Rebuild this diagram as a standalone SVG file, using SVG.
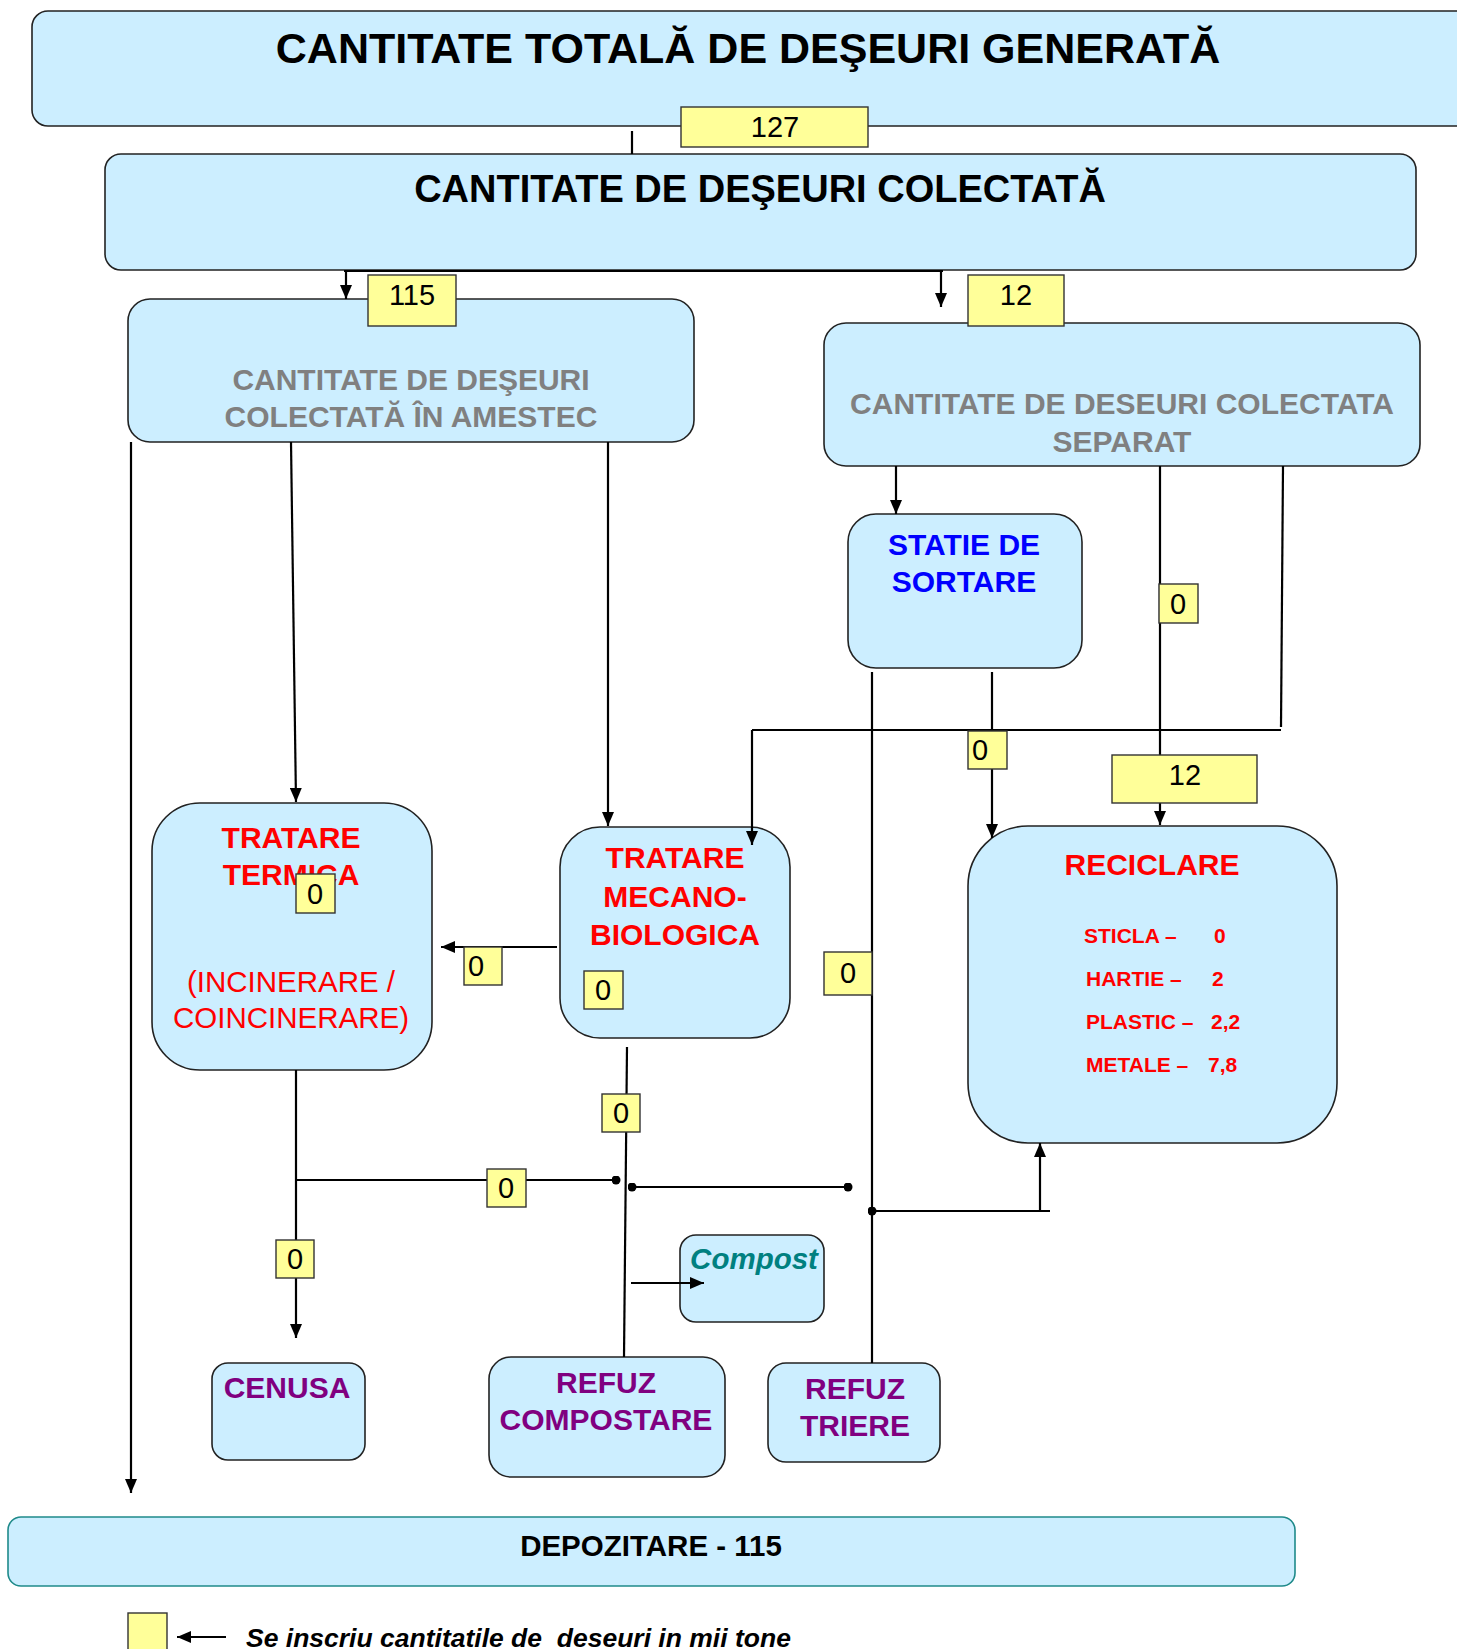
<svg xmlns="http://www.w3.org/2000/svg" width="1457" height="1649" viewBox="0 0 1457 1649">
  <defs>
    <marker id="arrow" viewBox="0 0 14 12" refX="14" refY="6" markerWidth="14" markerHeight="12" markerUnits="userSpaceOnUse" orient="auto">
      <path d="M0,0 L14,6 L0,12 Z" fill="#000"/>
    </marker>
    <marker id="dot" viewBox="0 0 10 10" refX="5" refY="5" markerWidth="9" markerHeight="9" markerUnits="userSpaceOnUse">
      <circle cx="5" cy="5" r="5" fill="#000"/>
    </marker>
  </defs>
  <style>
    .box { fill: #cceeff; stroke: #222; stroke-width: 1.6; }
    .dep { fill: #cceeff; stroke: #1f8a8a; stroke-width: 1.6; }
    .val { fill: #ffff99; stroke: #333; stroke-width: 1.4; }
    .ln { fill: none; stroke: #000; stroke-width: 2.2; }
    .arr { fill: none; stroke: #000; stroke-width: 2.2; marker-end: url(#arrow); }
    text { font-family: "Liberation Sans", Arial, sans-serif; text-anchor: middle; }
    .h1 { font-size: 43px; font-weight: bold; fill: #000; }
    .h2 { font-size: 38px; font-weight: bold; fill: #000; }
    .gray { font-size: 30px; font-weight: bold; fill: #808080; }
    .blue { font-size: 30px; font-weight: bold; fill: #0000ff; }
    .red { font-size: 30px; font-weight: bold; fill: #ff0000; }
    .redn { font-size: 29.5px; fill: #ff0000; }
    .item { font-size: 21px; font-weight: bold; fill: #ff0000; text-anchor: start; }
    .purple { font-size: 30px; font-weight: bold; fill: #800080; }
    .teal { font-size: 29.5px; font-weight: bold; font-style: italic; fill: #008080; }
    .num { font-size: 29px; fill: #000; }
    .dep-t { font-size: 29.5px; font-weight: bold; fill: #000; }
    .note { font-size: 26.5px; font-weight: bold; font-style: italic; fill: #000; text-anchor: start; }
  </style>

  <rect width="1457" height="1649" fill="#fff"/>

  <!-- nodes -->
  <g id="total">
    <rect class="box" x="32" y="11" width="1440" height="115" rx="16"/>
    <text class="h1" x="748" y="63">CANTITATE TOTALĂ DE DEŞEURI GENERATĂ</text>
  </g>
  <g id="colectata">
    <rect class="box" x="105" y="154" width="1311" height="116" rx="16"/>
    <text class="h2" x="760" y="202">CANTITATE DE DEŞEURI COLECTATĂ</text>
  </g>
  <g id="amestec">
    <rect class="box" x="128" y="299" width="566" height="143" rx="22"/>
    <text class="gray" x="411" y="390">CANTITATE DE DEŞEURI</text>
    <text class="gray" x="411" y="427">COLECTATĂ ÎN AMESTEC</text>
  </g>
  <g id="separat">
    <rect class="box" x="824" y="323" width="596" height="143" rx="22"/>
    <text class="gray" x="1122" y="414">CANTITATE DE DESEURI COLECTATA</text>
    <text class="gray" x="1122" y="452">SEPARAT</text>
  </g>
  <g id="statie">
    <rect class="box" x="848" y="514" width="234" height="154" rx="28"/>
    <text class="blue" x="964" y="555">STATIE DE</text>
    <text class="blue" x="964" y="592">SORTARE</text>
  </g>
  <g id="termica">
    <rect class="box" x="152" y="803" width="280" height="267" rx="48"/>
    <text class="red" x="291" y="848">TRATARE</text>
    <text class="red" x="291" y="885">TERMICA</text>
    <text class="redn" x="291" y="992">(INCINERARE /</text>
    <text class="redn" x="291" y="1028">COINCINERARE)</text>
  </g>
  <g id="tmb">
    <rect class="box" x="560" y="827" width="230" height="211" rx="40"/>
    <text class="red" x="675" y="868">TRATARE</text>
    <text class="red" x="675" y="907">MECANO-</text>
    <text class="red" x="675" y="945">BIOLOGICA</text>
  </g>
  <g id="reciclare">
    <rect class="box" x="968" y="826" width="369" height="317" rx="60"/>
    <text class="red" x="1152" y="875">RECICLARE</text>
    <text class="item" x="1084" y="943">STICLA –</text>
    <text class="item" x="1214" y="943">0</text>
    <text class="item" x="1086" y="986">HARTIE –</text>
    <text class="item" x="1212" y="986">2</text>
    <text class="item" x="1086" y="1029">PLASTIC –</text>
    <text class="item" x="1211" y="1029">2,2</text>
    <text class="item" x="1086" y="1072">METALE –</text>
    <text class="item" x="1208" y="1072">7,8</text>
  </g>
  <g id="compost">
    <rect class="box" x="680" y="1235" width="144" height="87" rx="16"/>
    <text class="teal" x="754" y="1269">Compost</text>
  </g>
  <g id="cenusa">
    <rect class="box" x="212" y="1363" width="153" height="97" rx="16"/>
    <text class="purple" x="287" y="1398">CENUSA</text>
  </g>
  <g id="refuz-compostare">
    <rect class="box" x="489" y="1357" width="236" height="120" rx="22"/>
    <text class="purple" x="606" y="1393">REFUZ</text>
    <text class="purple" x="606" y="1430">COMPOSTARE</text>
  </g>
  <g id="refuz-triere">
    <rect class="box" x="768" y="1363" width="172" height="99" rx="18"/>
    <text class="purple" x="855" y="1399">REFUZ</text>
    <text class="purple" x="855" y="1436">TRIERE</text>
  </g>
  <g id="depozitare">
    <rect class="dep" x="8" y="1517" width="1287" height="69" rx="13"/>
    <text class="dep-t" x="651" y="1556">DEPOZITARE - 115</text>
  </g>

  <!-- connectors -->
  <g id="connectors">
    <path class="ln" d="M632,131 V154"/>
    <path class="ln" d="M344,271 H943" stroke-width="3"/>
    <path class="arr" d="M346,271 V299"/>
    <path class="arr" d="M941,271 V307"/>
    <path class="arr" d="M131,442 V1493"/>
    <path class="arr" d="M291,442 L296,802"/>
    <path class="arr" d="M608,442 V826"/>
    <path class="arr" d="M896,466 V514"/>
    <path class="arr" d="M1160,466 V825"/>
    <path class="ln" d="M1283,466 L1281,727"/>
    <path class="ln" d="M1281,730 H752"/>
    <path class="arr" d="M752,730 V845"/>
    <path class="ln" d="M872,672 V1363"/>
    <path class="arr" d="M992,672 V838"/>
    <path class="arr" d="M557,947 H441"/>
    <path class="arr" d="M296,1070 V1338"/>
    <path class="ln" d="M296,1180 H616" marker-end="url(#dot)"/>
    <path class="ln" d="M627,1047 L624,1357"/>
    <path class="ln" d="M632,1187 H848" marker-start="url(#dot)" marker-end="url(#dot)"/>
    <path class="ln" d="M872,1211 H1050" marker-start="url(#dot)"/>
    <path class="arr" d="M1040,1211 V1143"/>
    <path class="arr" d="M631,1283 H704"/>
    <path class="arr" d="M226,1637 H177"/>
  </g>

  <!-- quantity labels -->
  <g id="labels">
    <rect class="val" x="681" y="107" width="187" height="40"/>
    <text class="num" x="775" y="137">127</text>
    <rect class="val" x="368" y="275" width="88" height="51"/>
    <text class="num" x="412" y="305">115</text>
    <rect class="val" x="968" y="275" width="96" height="51"/>
    <text class="num" x="1016" y="305">12</text>
    <rect class="val" x="1159" y="584" width="39" height="39"/>
    <text class="num" x="1178" y="614">0</text>
    <rect class="val" x="1112" y="755" width="145" height="48"/>
    <text class="num" x="1185" y="785">12</text>
    <rect class="val" x="968" y="731" width="39" height="38"/>
    <text class="num" x="980" y="760">0</text>
    <rect class="val" x="296" y="874" width="39" height="39"/>
    <text class="num" x="315" y="904">0</text>
    <rect class="val" x="464" y="947" width="38" height="38"/>
    <text class="num" x="476" y="976">0</text>
    <rect class="val" x="584" y="971" width="39" height="38"/>
    <text class="num" x="603" y="1000">0</text>
    <rect class="val" x="824" y="952" width="48" height="43"/>
    <text class="num" x="848" y="983">0</text>
    <rect class="val" x="602" y="1094" width="38" height="38"/>
    <text class="num" x="621" y="1123">0</text>
    <rect class="val" x="487" y="1169" width="39" height="38"/>
    <text class="num" x="506" y="1198">0</text>
    <rect class="val" x="276" y="1240" width="38" height="38"/>
    <text class="num" x="295" y="1269">0</text>
  </g>

  <!-- legend -->
  <g id="legend">
    <rect class="val" x="128" y="1613" width="39" height="50"/>
    <text class="note" x="246" y="1647" xml:space="preserve">Se inscriu cantitatile de  deseuri in mii tone</text>
  </g>
</svg>
